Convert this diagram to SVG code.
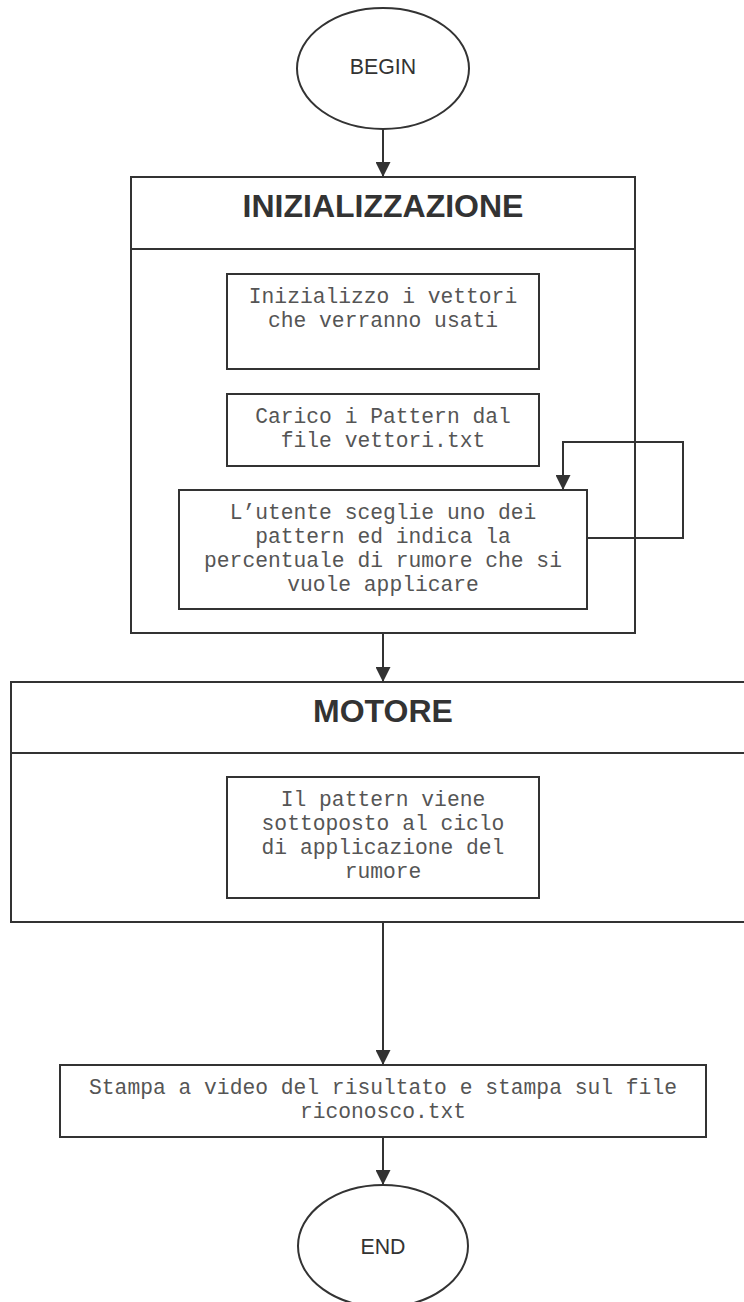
<svg xmlns="http://www.w3.org/2000/svg" width="744" height="1302" viewBox="0 0 744 1302">
<defs>
<style>
.ln{fill:none;stroke:#333;stroke-width:2}
.bx{fill:#fff;stroke:#333;stroke-width:2}
.hd{font-family:"Liberation Sans",Arial,sans-serif;font-weight:bold;font-size:32px;fill:#333;text-anchor:middle}
.tm{font-family:"Liberation Sans",Arial,sans-serif;font-size:21.3px;fill:#333;text-anchor:middle}
.mo{font-family:"Liberation Mono","Courier New",monospace;font-size:21.3px;fill:#555;text-anchor:middle}
</style>
<marker id="arr" markerUnits="userSpaceOnUse" markerWidth="15" markerHeight="15" refX="15" refY="7.5" orient="auto" viewBox="0 0 15 15">
<path d="M0,0 L15,7.5 L0,15 z" fill="#333"/>
</marker>
</defs>
<rect width="744" height="1302" fill="#fff"/>
<g id="begin">
<ellipse class="bx" cx="383" cy="68.5" rx="86" ry="60.5"/>
<text class="tm" x="383" y="74">BEGIN</text>
</g>
<g id="inizializzazione">
<rect class="bx" x="131" y="177" width="504" height="456"/>
<line class="ln" x1="131" y1="249" x2="635" y2="249"/>
<text class="hd" x="383" y="217">INIZIALIZZAZIONE</text>
</g>
<g id="vettori">
<rect class="bx" x="227" y="274" width="312" height="95"/>
<text class="mo" x="383" y="303">Inizializzo i vettori</text>
<text class="mo" x="383" y="327">che verranno usati</text>
</g>
<g id="carico">
<rect class="bx" x="227" y="394" width="312" height="72"/>
<text class="mo" x="383" y="423">Carico i Pattern dal</text>
<text class="mo" x="383" y="447">file vettori.txt</text>
</g>
<g id="utente">
<rect class="bx" x="179" y="490" width="408" height="119"/>
<text class="mo" x="383" y="519">L’utente sceglie uno dei</text>
<text class="mo" x="383" y="543">pattern ed indica la</text>
<text class="mo" x="383" y="567">percentuale di rumore che si</text>
<text class="mo" x="383" y="591">vuole applicare</text>
</g>
<g id="motore">
<rect class="bx" x="11" y="682" width="744" height="240"/>
<line class="ln" x1="11" y1="753" x2="755" y2="753"/>
<text class="hd" x="383" y="722">MOTORE</text>
</g>
<g id="ciclo">
<rect class="bx" x="227" y="777" width="312" height="121"/>
<text class="mo" x="383" y="806">Il pattern viene</text>
<text class="mo" x="383" y="830">sottoposto al ciclo</text>
<text class="mo" x="383" y="854">di applicazione del</text>
<text class="mo" x="383" y="878">rumore</text>
</g>
<g id="stampa">
<rect class="bx" x="60" y="1065" width="646" height="72"/>
<text class="mo" x="383" y="1094">Stampa a video del risultato e stampa sul file</text>
<text class="mo" x="383" y="1118">riconosco.txt</text>
</g>
<g id="end">
<ellipse class="bx" cx="383" cy="1246" rx="85" ry="61"/>
<text class="tm" x="383" y="1254">END</text>
</g>
<g id="connectors">
<line class="ln" x1="383" y1="129" x2="383" y2="177" marker-end="url(#arr)"/>
<line class="ln" x1="383" y1="633" x2="383" y2="682" marker-end="url(#arr)"/>
<polyline class="ln" points="587,538 683,538 683,442 563,442 563,490" marker-end="url(#arr)"/>
<line class="ln" x1="383" y1="922" x2="383" y2="1065" marker-end="url(#arr)"/>
<line class="ln" x1="383" y1="1137" x2="383" y2="1185" marker-end="url(#arr)"/>
</g>
</svg>
